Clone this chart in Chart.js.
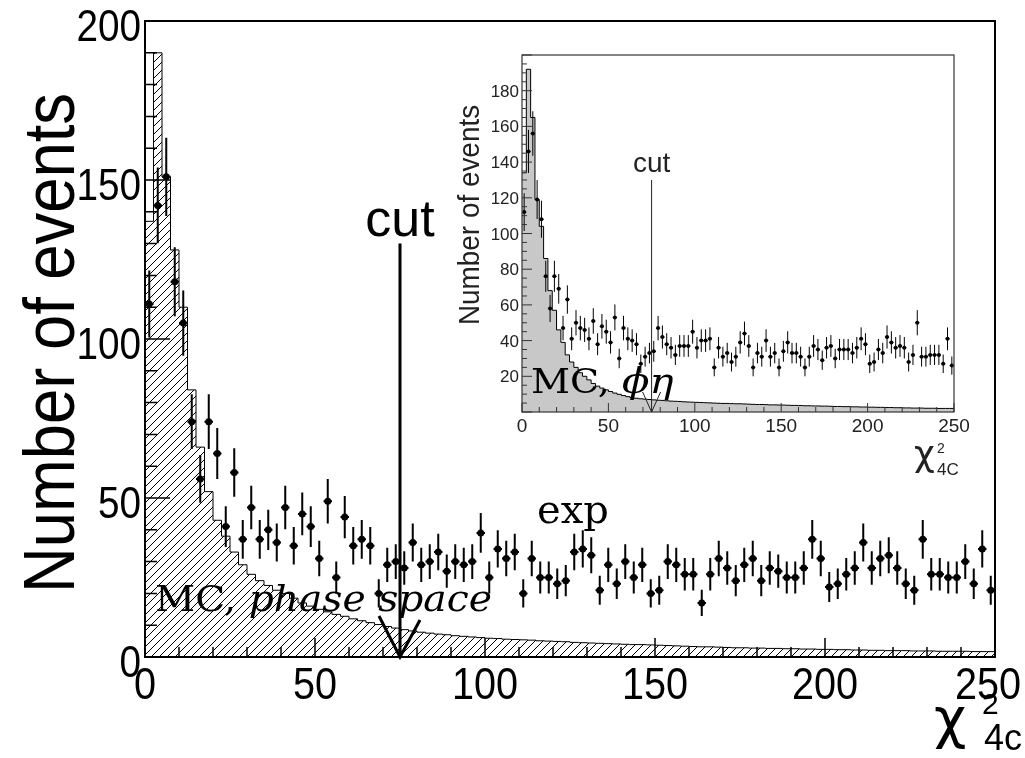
<!DOCTYPE html>
<html>
<head>
<meta charset="utf-8">
<script src="https://cdn.jsdelivr.net/npm/chart.js@4.4.1/dist/chart.umd.min.js"></script>
<style>
    html, body { margin: 0; padding: 0; background: #fff; }
    #wrap { position: relative; width: 1025px; height: 758px; overflow: hidden; }
    #main { position: absolute; left: 0; top: 0; }
    #inset { position: absolute; left: 440px; top: 35px; }
</style>
</head>
<body>
<div id="wrap">
    <canvas id="main" width="1025" height="758"></canvas>
    <canvas id="inset" width="560" height="455"></canvas>
</div>
<script>
const BIN = 2.5;
const CUT = 75;

// main plot: experimental counts per 2.5-wide bin of chi2_4C
const expMain = [
    111, 142, 151, 118, 105, 74, 56, 74, 64, 41,
    58, 37, 47, 37, 40, 36, 47, 35, 45, 41,
    31, 49, 25, 44, 35, 37, 35, 20, 29, 30,
    28, 36, 29, 30, 33, 27, 30, 29, 30, 39,
    25, 34, 31, 33, 20, 31, 25, 25, 23, 24,
    33, 34, 32, 21, 29, 23, 30, 25, 29, 20,
    21, 30, 29, 26, 26, 17, 26, 31, 28, 24,
    29, 31, 24, 28, 27, 25, 25, 28, 37, 31,
    22, 23, 26, 28, 36, 28, 31, 32, 28, 23,
    21, 37, 26, 26, 25, 25, 30, 23, 34, 21
];

// main plot: MC phase space (hatched)
const mcMain = [
    137, 190, 151, 128, 110, 84, 66, 52, 43, 38,
    33, 29, 26, 24, 22.5, 21, 20, 18.5, 17, 16,
    15, 14.2, 13.4, 12.8, 12, 11.4, 10.8, 10.2, 9.6, 9.1,
    8.6, 8.2, 7.8, 7.5, 7.2, 7.0, 6.7, 6.5, 6.3, 6.1,
    5.9, 5.8, 5.6, 5.5, 5.4, 5.3, 5.1, 5.0, 4.9, 4.8,
    4.6, 4.5, 4.4, 4.3, 4.2, 4.1, 4.0, 3.9, 3.9, 3.8,
    3.7, 3.6, 3.5, 3.4, 3.3, 3.2, 3.2, 3.1, 3.0, 2.9,
    2.9, 2.8, 2.8, 2.7, 2.7, 2.6, 2.6, 2.5, 2.5, 2.4,
    2.4, 2.3, 2.3, 2.2, 2.2, 2.1, 2.1, 2.0, 2.0, 2.0,
    1.9, 1.9, 1.9, 1.8, 1.8, 1.8, 1.8, 1.7, 1.7, 1.7
];

// inset: experimental counts
const expInset = [
    112, 146, 156, 119, 108, 76, 58, 76, 69, 47,
    63, 41, 50, 47, 46, 41, 51, 38, 48, 45,
    39, 53, 30, 47, 41, 40, 38, 27, 31, 33,
    34, 47, 42, 38, 36, 32, 37, 37, 37, 45,
    36, 40, 40, 41, 25, 36, 31, 33, 28, 31,
    39, 44, 37, 25, 33, 31, 40, 31, 33, 25,
    34, 39, 33, 33, 31, 25, 31, 37, 35, 29,
    36, 37, 30, 35, 35, 35, 33, 36, 41, 38,
    27, 28, 35, 33, 42, 39, 36, 37, 36, 28,
    32, 50, 31, 31, 32, 32, 32, 27, 41, 26
];

// inset: MC phi-eta (grey)
const mcInset = [
    134, 192, 165, 119, 104, 86, 68, 57, 46, 39,
    32, 28, 25, 22, 20, 18, 16, 14.5, 13.4, 12.4,
    11.5, 10.6, 9.9, 9.2, 8.6, 8.0, 7.7, 7.4, 7.2, 7.0,
    6.8, 6.6, 6.5, 6.3, 6.1, 6.0, 5.9, 5.7, 5.6, 5.5,
    5.4, 5.3, 5.2, 5.1, 5.0, 4.9, 4.8, 4.8, 4.7, 4.6,
    4.6, 4.5, 4.4, 4.3, 4.2, 4.2, 4.1, 4.0, 4.0, 3.9,
    3.9, 3.8, 3.7, 3.7, 3.6, 3.5, 3.5, 3.4, 3.4, 3.3,
    3.3, 3.2, 3.1, 3.1, 3.0, 3.0, 2.9, 2.9, 2.8, 2.8,
    2.7, 2.7, 2.6, 2.6, 2.5, 2.5, 2.4, 2.4, 2.3, 2.3,
    2.2, 2.2, 2.2, 2.1, 2.1, 2.1, 2.0, 2.0, 2.0, 2.0
];

const mainXTicks = [0, 50, 100, 150, 200, 250];
const mainYTicks = [0, 50, 100, 150, 200];
const insetXTicks = [0, 50, 100, 150, 200, 250];
const insetYTicks = [20, 40, 60, 80, 100, 120, 140, 160, 180];

const SANS = '"Liberation Sans", Arial, sans-serif';
const SERIF = '"DejaVu Serif", serif';
const GREEK = '"DejaVu Sans", sans-serif';

function centers(values) {
    return values.map((v, i) => ({ x: (i + 0.5) * BIN, y: v }));
}

// bin edges for a stepped line, last point closes the final bin
function steps(values) {
    const pts = values.map((v, i) => ({ x: i * BIN, y: v }));
    pts.push({ x: values.length * BIN, y: values[values.length - 1] });
    return pts;
}

function makeHatch() {
    const c = document.createElement('canvas');
    c.width = 8; c.height = 8;
    const g = c.getContext('2d');
    g.fillStyle = '#fff';
    g.fillRect(0, 0, 8, 8);
    g.strokeStyle = '#000';
    g.lineWidth = 1;
    g.beginPath();
    g.moveTo(0, 8); g.lineTo(8, 0);
    g.moveTo(-1, 1); g.lineTo(1, -1);
    g.moveTo(7, 9); g.lineTo(9, 7);
    g.stroke();
    return g.createPattern(c, 'repeat');
}

function txt(ctx, s, x, y, o) {
    ctx.save();
    ctx.translate(x, y);
    if (o.rot) ctx.rotate(o.rot);
    ctx.scale(o.sx || 1, o.sy || 1);
    ctx.font = o.font;
    ctx.textAlign = o.align || 'left';
    ctx.textBaseline = 'alphabetic';
    ctx.fillStyle = o.color || '#000';
    ctx.fillText(s, 0, 0);
    const w = ctx.measureText(s).width * (o.sx || 1);
    ctx.restore();
    return w;
}

function drawErrors(chart, values, lw) {
    const { ctx, scales: { x, y } } = chart;
    ctx.save();
    ctx.strokeStyle = '#000';
    ctx.lineWidth = lw;
    ctx.beginPath();
    values.forEach((v, i) => {
        const c = (i + 0.5) * BIN;
        const e = Math.sqrt(v);
        const px = x.getPixelForValue(c);
        const py = y.getPixelForValue(v);
        ctx.moveTo(px, y.getPixelForValue(v - e));
        ctx.lineTo(px, y.getPixelForValue(v + e));
        ctx.moveTo(x.getPixelForValue(c - BIN / 2), py);
        ctx.lineTo(x.getPixelForValue(c + BIN / 2), py);
    });
    ctx.stroke();
    ctx.restore();
}

// frame plus inward ticks on the left and bottom axes
function drawFrame(chart, a) {
    const { ctx, chartArea: ca, scales: { x, y } } = chart;
    ctx.save();
    ctx.strokeStyle = a.color;
    ctx.lineWidth = a.tickWidth;
    ctx.beginPath();
    for (let k = 0; k * a.xMinor <= x.max + 1e-9; k++) {
        const v = k * a.xMinor;
        const len = (v % a.xMajor === 0) ? a.xMajorLen : a.xMinorLen;
        const px = x.getPixelForValue(v);
        ctx.moveTo(px, ca.bottom);
        ctx.lineTo(px, ca.bottom - len);
    }
    for (let k = 0; k * a.yMinor <= y.max + 1e-9; k++) {
        const v = k * a.yMinor;
        const len = (v % a.yMajor === 0) ? a.yMajorLen : a.yMinorLen;
        const py = y.getPixelForValue(v);
        ctx.moveTo(ca.left, py);
        ctx.lineTo(ca.left + len, py);
    }
    ctx.stroke();
    ctx.lineWidth = a.frameWidth;
    ctx.strokeRect(ca.left, ca.top, ca.right - ca.left, ca.bottom - ca.top);
    ctx.restore();
}

function baseOptions(yWidth, xHeight, padding) {
    return {
        responsive: false,
        animation: false,
        devicePixelRatio: 1,
        layout: { padding: padding },
        plugins: { legend: { display: false }, tooltip: { enabled: false } },
        scales: {
            x: {
                type: 'linear', min: 0, max: 250,
                ticks: { display: false }, grid: { display: false }, border: { display: false },
                afterFit(s) { s.height = xHeight; }
            },
            y: {
                type: 'linear', min: 0, max: 200,
                ticks: { display: false }, grid: { display: false }, border: { display: false },
                afterFit(s) { s.width = yWidth; }
            }
        }
    };
}

const mainDecor = {
    id: 'mainDecor',
    afterDatasetsDraw(chart) {
        drawErrors(chart, expMain, 2);
        drawFrame(chart, {
            color: '#000', frameWidth: 2, tickWidth: 1.5,
            xMinor: 10, xMajor: 50, xMajorLen: 19, xMinorLen: 10,
            yMinor: 10, yMajor: 50, yMajorLen: 25, yMinorLen: 12
        });
    },
    afterDraw(chart) {
        const { ctx, chartArea: ca, scales: { x, y } } = chart;
        mainYTicks.forEach(v => txt(ctx, String(v), 141, y.getPixelForValue(v) + 20,
            { font: `44px ${SANS}`, align: 'right', sx: 0.88 }));
        // the last label is pulled in so it stays inside the page
        mainXTicks.forEach(v => txt(ctx, String(v), Math.min(x.getPixelForValue(v), 988), 699,
            { font: `44px ${SANS}`, align: 'center', sx: 0.9 }));

        txt(ctx, 'Number of events', 74, 343, { font: `72px ${SANS}`, align: 'center', rot: -Math.PI / 2, sx: 0.88 });

        txt(ctx, 'χ', 934, 737, { font: `56px ${GREEK}` });
        txt(ctx, '2', 982, 714, { font: `30px ${SANS}` });
        txt(ctx, '4c', 984, 750, { font: `36px ${SANS}` });

        // cut arrow
        const cx = x.getPixelForValue(CUT);
        const top = y.getPixelForValue(130);
        ctx.save();
        ctx.strokeStyle = '#000';
        ctx.lineWidth = 3;
        ctx.beginPath();
        ctx.moveTo(cx, top);
        ctx.lineTo(cx, ca.bottom);
        ctx.moveTo(cx - 21, ca.bottom - 41);
        ctx.lineTo(cx, ca.bottom);
        ctx.lineTo(cx + 20, ca.bottom - 37);
        ctx.stroke();
        ctx.restore();
        txt(ctx, 'cut', cx, top - 8, { font: `52px ${SANS}`, align: 'center' });

        txt(ctx, 'exp', 537, 523, { font: `40px ${SERIF}` });
        const w = txt(ctx, 'MC, ', 155, 611, { font: `35px ${SERIF}`, sx: 1.12 });
        txt(ctx, 'phase space', 155 + w, 611, { font: `italic 35px ${SERIF}`, sx: 1.12 });
    }
};

const insetDecor = {
    id: 'insetDecor',
    afterDatasetsDraw(chart) {
        drawErrors(chart, expInset, 1);
        drawFrame(chart, {
            color: '#333', frameWidth: 1.2, tickWidth: 1,
            xMinor: 10, xMajor: 50, xMajorLen: 9, xMinorLen: 5,
            yMinor: 5, yMajor: 20, yMajorLen: 10, yMinorLen: 5
        });
    },
    afterDraw(chart) {
        const { ctx, chartArea: ca, scales: { x, y } } = chart;
        insetYTicks.forEach(v => txt(ctx, String(v), 79, y.getPixelForValue(v) + 6,
            { font: `17px ${SANS}`, align: 'right', color: '#222' }));
        insetXTicks.forEach(v => txt(ctx, String(v), x.getPixelForValue(v), 397,
            { font: `19px ${SANS}`, align: 'center', color: '#222' }));

        txt(ctx, 'Number of events', 39, 180, { font: `30px ${SANS}`, align: 'center', rot: -Math.PI / 2, sx: 0.93, color: '#222' });

        txt(ctx, 'χ', 474, 431, { font: `36px ${GREEK}`, color: '#222' });
        txt(ctx, '2', 497, 418, { font: `14px ${SANS}`, color: '#222' });
        txt(ctx, '4C', 497, 440, { font: `17px ${SANS}`, color: '#222' });

        const cx = x.getPixelForValue(CUT);
        const top = y.getPixelForValue(130);
        ctx.save();
        ctx.strokeStyle = '#222';
        ctx.lineWidth = 1;
        ctx.beginPath();
        ctx.moveTo(cx, top);
        ctx.lineTo(cx, ca.bottom);
        ctx.moveTo(cx - 9, ca.bottom - 20);
        ctx.lineTo(cx, ca.bottom);
        ctx.lineTo(cx + 9, ca.bottom - 20);
        ctx.stroke();
        ctx.restore();
        txt(ctx, 'cut', cx, top - 8, { font: `28px ${SANS}`, align: 'center', color: '#222' });

        const w = txt(ctx, 'MC, ', 91, 358, { font: `34px ${SERIF}`, sx: 1.12 });
        txt(ctx, 'ϕη', 91 + w, 358, { font: `italic 36px ${SERIF}`, sx: 1.12 });
    }
};

const mainCanvas = document.getElementById('main');
new Chart(mainCanvas, {
    type: 'scatter',
    data: {
        datasets: [
            {
                label: 'exp',
                data: centers(expMain),
                pointRadius: 3.5,
                pointBackgroundColor: '#000',
                pointBorderWidth: 0,
                order: 0
            },
            {
                label: 'MC, phase space',
                type: 'line',
                data: steps(mcMain),
                stepped: 'before',
                fill: 'origin',
                backgroundColor: makeHatch(),
                borderColor: '#000',
                borderWidth: 1,
                pointRadius: 0,
                order: 1
            }
        ]
    },
    options: baseOptions(145, 101, { top: 21, right: 30, left: 0, bottom: 0 }),
    plugins: [mainDecor]
});

const insetCanvas = document.getElementById('inset');
new Chart(insetCanvas, {
    type: 'scatter',
    data: {
        datasets: [
            {
                label: 'exp',
                data: centers(expInset),
                pointRadius: 2,
                pointBackgroundColor: '#000',
                pointBorderWidth: 0,
                order: 0
            },
            {
                label: 'MC, φη',
                type: 'line',
                data: steps(mcInset),
                stepped: 'before',
                fill: 'origin',
                backgroundColor: '#c8c8c8',
                borderColor: '#000',
                borderWidth: 1,
                pointRadius: 0,
                order: 1
            }
        ]
    },
    options: baseOptions(82, 78, { top: 20, right: 46, left: 0, bottom: 0 }),
    plugins: [insetDecor]
});
</script>
</body>
</html>
